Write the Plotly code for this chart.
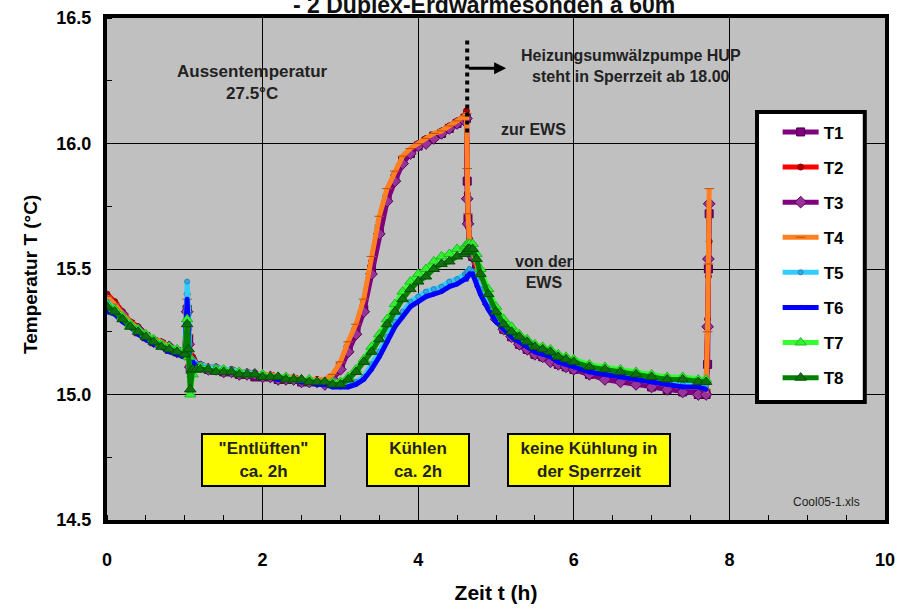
import plotly.graph_objects as go

# ---------------- data ----------------
t = [0.0, 0.1, 0.2, 0.3, 0.4, 0.5, 0.6, 0.7, 0.8, 0.9, 1.0,
     1.03, 1.05, 1.07, 1.1, 1.15,
     1.2, 1.3, 1.4, 1.5, 1.6, 1.7, 1.8, 1.9, 2.0, 2.1, 2.2, 2.3, 2.4, 2.5, 2.6, 2.7, 2.8, 2.9,
     3.0, 3.1, 3.2, 3.3, 3.4, 3.5, 3.6, 3.7, 3.8, 3.9, 4.0, 4.1, 4.2, 4.3, 4.4, 4.5, 4.6,
     4.62, 4.63, 4.64, 4.66, 4.7, 4.75, 4.8,
     4.9, 5.0, 5.1, 5.2, 5.3, 5.4, 5.5, 5.6, 5.7, 5.8, 5.9, 6.0,
     6.2, 6.4, 6.6, 6.8, 7.0, 7.2, 7.4, 7.6, 7.7,
     7.72, 7.73, 7.74]

T1 = [15.37, 15.35, 15.31, 15.28, 15.25, 15.23, 15.21, 15.20, 15.18, 15.17, 15.16,
      15.34, 15.22, 15.10, 15.13, 15.11,
      15.11, 15.10, 15.10, 15.09, 15.09, 15.08, 15.08, 15.07, 15.07, 15.07, 15.06, 15.06, 15.06, 15.05, 15.05, 15.05, 15.05, 15.06,
      15.11, 15.18, 15.25, 15.34, 15.50, 15.66, 15.78, 15.86, 15.93, 15.96, 15.99, 16.01, 16.03, 16.04, 16.06, 16.08, 16.10,
      16.10, 15.85, 15.70, 15.58, 15.55, 15.50, 15.44,
      15.37, 15.31, 15.26, 15.23, 15.20, 15.18, 15.16, 15.15, 15.14, 15.12, 15.11, 15.10,
      15.08, 15.07, 15.06, 15.05, 15.03, 15.02, 15.01, 15.00, 15.00,
      15.12, 15.50, 15.72]

T2 = [15.40, 15.37, 15.33, 15.29, 15.27, 15.24, 15.22, 15.21, 15.19, 15.18, 15.17,
      15.40, 15.26, 15.14, 15.15, 15.12,
      15.12, 15.11, 15.11, 15.10, 15.10, 15.09, 15.09, 15.08, 15.08, 15.07, 15.07, 15.07, 15.06, 15.06, 15.06, 15.06, 15.05, 15.07,
      15.12, 15.20, 15.27, 15.37, 15.53, 15.69, 15.80, 15.88, 15.94, 15.97, 16.00, 16.02, 16.03, 16.05, 16.07, 16.09, 16.11,
      16.13, 15.80, 15.67, 15.62, 15.56, 15.51, 15.46,
      15.39, 15.32, 15.28, 15.24, 15.22, 15.20, 15.18, 15.16, 15.15, 15.14, 15.13, 15.12,
      15.10, 15.08, 15.07, 15.06, 15.05, 15.04, 15.03, 15.02, 15.02,
      15.30, 15.47, 15.61]

T3 = [15.38, 15.35, 15.32, 15.28, 15.26, 15.23, 15.21, 15.20, 15.19, 15.17, 15.16,
      15.33, 15.20, 15.11, 15.13, 15.11,
      15.11, 15.10, 15.10, 15.09, 15.09, 15.08, 15.08, 15.08, 15.07, 15.07, 15.06, 15.06, 15.06, 15.05, 15.05, 15.05, 15.04, 15.06,
      15.10, 15.17, 15.24, 15.33, 15.48, 15.64, 15.77, 15.85, 15.92, 15.96, 15.99, 16.00, 16.02, 16.04, 16.06, 16.08, 16.09,
      16.10, 15.78, 15.68, 15.59, 15.55, 15.49, 15.43,
      15.36, 15.30, 15.26, 15.23, 15.20, 15.18, 15.16, 15.15, 15.13, 15.12, 15.11, 15.10,
      15.08, 15.06, 15.05, 15.04, 15.03, 15.02, 15.01, 15.00, 15.00,
      15.27, 15.54, 15.76]

T4 = [15.39, 15.36, 15.32, 15.29, 15.26, 15.24, 15.22, 15.21, 15.19, 15.18, 15.17,
      15.38, 15.24, 15.12, 15.14, 15.12,
      15.12, 15.11, 15.11, 15.10, 15.10, 15.09, 15.09, 15.08, 15.08, 15.08, 15.07, 15.07, 15.07, 15.06, 15.06, 15.06, 15.06, 15.08,
      15.13, 15.21, 15.28, 15.38, 15.55, 15.71, 15.82, 15.89, 15.95, 15.98, 16.00, 16.02, 16.04, 16.05, 16.07, 16.09, 16.11,
      16.12, 15.90, 15.72, 15.60, 15.57, 15.52, 15.46,
      15.39, 15.33, 15.28, 15.25, 15.22, 15.20, 15.18, 15.16, 15.15, 15.14, 15.13, 15.12,
      15.10, 15.08, 15.07, 15.06, 15.05, 15.04, 15.03, 15.03, 15.02,
      15.25, 15.52, 15.82]

T5 = [15.37, 15.34, 15.31, 15.28, 15.25, 15.23, 15.21, 15.19, 15.18, 15.17, 15.16,
      15.45, 15.32, 15.06, 15.14, 15.12,
      15.12, 15.11, 15.11, 15.10, 15.10, 15.09, 15.09, 15.08, 15.08, 15.07, 15.07, 15.07, 15.06, 15.06, 15.05, 15.05, 15.05, 15.04,
      15.04, 15.04, 15.05, 15.07, 15.12, 15.17, 15.23, 15.29, 15.33, 15.37, 15.39, 15.41, 15.42, 15.43, 15.45, 15.46, 15.48,
      15.48, 15.49, 15.49, 15.50, 15.49, 15.46, 15.42,
      15.35, 15.30, 15.27, 15.24, 15.22, 15.20, 15.18, 15.17, 15.16, 15.14, 15.13, 15.12,
      15.10, 15.09, 15.08, 15.07, 15.06, 15.05, 15.04, 15.04, 15.03,
      None, None, None]

T6 = [15.33, 15.32, 15.29, 15.27, 15.24, 15.22, 15.20, 15.19, 15.17, 15.16, 15.15,
      15.38, 15.24, 15.05, 15.13, 15.11,
      15.11, 15.10, 15.10, 15.09, 15.09, 15.08, 15.08, 15.08, 15.07, 15.07, 15.06, 15.06, 15.06, 15.05, 15.05, 15.04, 15.04, 15.03,
      15.03, 15.03, 15.04, 15.06, 15.10, 15.15, 15.21, 15.27, 15.31, 15.35, 15.37, 15.39, 15.40, 15.41, 15.43, 15.44, 15.46,
      15.46, 15.47, 15.47, 15.48, 15.48, 15.44, 15.40,
      15.34, 15.29, 15.26, 15.23, 15.21, 15.19, 15.17, 15.16, 15.15, 15.13, 15.12, 15.11,
      15.09, 15.08, 15.07, 15.06, 15.05, 15.04, 15.03, 15.03, 15.02,
      None, None, None]

T7 = [15.36, 15.34, 15.31, 15.28, 15.26, 15.24, 15.22, 15.20, 15.19, 15.18, 15.17,
      15.30, 15.15, 15.00, 15.08, 15.10,
      15.11, 15.10, 15.10, 15.10, 15.09, 15.09, 15.08, 15.08, 15.08, 15.07, 15.07, 15.07, 15.06, 15.06, 15.06, 15.05, 15.05, 15.05,
      15.05, 15.07, 15.10, 15.14, 15.19, 15.24, 15.30, 15.36, 15.41, 15.45, 15.48, 15.50, 15.53, 15.55, 15.56, 15.58, 15.59,
      15.59, 15.60, 15.60, 15.60, 15.60, 15.56, 15.50,
      15.42, 15.35, 15.30, 15.27, 15.24, 15.22, 15.20, 15.19, 15.18, 15.16, 15.15, 15.14,
      15.12, 15.11, 15.10, 15.09, 15.08, 15.07, 15.07, 15.06, 15.06,
      None, None, None]

T8 = [15.35, 15.33, 15.30, 15.27, 15.25, 15.23, 15.21, 15.19, 15.18, 15.17, 15.16,
      15.28, 15.18, 15.02, 15.10, 15.10,
      15.10, 15.10, 15.09, 15.09, 15.09, 15.08, 15.08, 15.08, 15.07, 15.07, 15.07, 15.06, 15.06, 15.06, 15.05, 15.05, 15.05, 15.04,
      15.04, 15.06, 15.09, 15.13, 15.17, 15.22, 15.28, 15.33, 15.38, 15.42, 15.45, 15.47, 15.50, 15.52, 15.53, 15.55, 15.56,
      15.57, 15.57, 15.58, 15.58, 15.58, 15.54, 15.48,
      15.40, 15.33, 15.28, 15.25, 15.23, 15.21, 15.19, 15.18, 15.17, 15.15, 15.14, 15.13,
      15.11, 15.10, 15.09, 15.08, 15.07, 15.06, 15.06, 15.05, 15.05,
      None, None, None]

series_names = ["T1", "T2", "T3", "T4", "T5", "T6", "T7", "T8"]
series_values = [T1, T2, T3, T4, T5, T6, T7, T8]

x_ticks = [0, 2, 4, 6, 8, 10]
y_ticks = [14.5, 15.0, 15.5, 16.0, 16.5]

# ---------------- styles ----------------
styles = {
    "T1": dict(line="#800080", sym="square", size=8, mcol="#800080", mline="#4b004b"),
    "T2": dict(line="#ff0000", sym="circle", size=6, mcol="#a00000", mline="#a00000"),
    "T3": dict(line="#800080", sym="diamond", size=9, mcol="#993399", mline="#5a005a"),
    "T4": dict(line="#ff8020", sym="line-ew", size=7, mcol="#e06010", mline="#c05000"),
    "T5": dict(line="#33ccff", sym="circle", size=5, mcol="#33aadd", mline="#2288bb"),
    "T6": dict(line="#0000ff", sym="circle", size=4, mcol="#0000ff", mline="#0000ff"),
    "T7": dict(line="#33ff33", sym="triangle-up", size=10, mcol="#33ee33", mline="#22bb22"),
    "T8": dict(line="#008000", sym="triangle-up", size=10, mcol="#107010", mline="#005000"),
}

FONT = "Liberation Sans, Arial, sans-serif"
TXT = dict(color="#222222", family=FONT, weight="bold")

fig = go.Figure()
for name, vals in zip(series_names, series_values):
    s = styles[name]
    fig.add_trace(go.Scatter(
        x=t, y=vals, name=name, mode="lines+markers", legendgroup=name,
        line=dict(color=s["line"], width=5),
        marker=dict(symbol=s["sym"], size=s["size"], color=s["mcol"],
                    line=dict(color=s["mline"], width=1)),
    ))

# legend frame (white box with thick black border)
fig.add_shape(type="rect", xref="paper", yref="paper",
              x0=0.8355, x1=0.974, y0=0.235, y1=0.8127,
              fillcolor="white", line=dict(color="black", width=4), layer="above")

# dotted vertical line at pump stop
fig.add_shape(type="line", xref="x", yref="y", x0=4.63, x1=4.63, y0=16.41, y1=16.03,
              line=dict(color="black", width=4, dash="dot"))

annots = [
    dict(x=5.13, y=16.30, ax=4.63, ay=16.30, xref="x", yref="y", axref="x", ayref="y",
         showarrow=True, arrowhead=2, arrowsize=0.8, arrowwidth=3, arrowcolor="black", text=""),
    dict(x=1.87, y=16.245, text="Aussentemperatur<br>27.5°C", showarrow=False,
         font=dict(size=17, **TXT)),
    dict(x=6.74, y=16.31, text="Heizungsumwälzpumpe HUP<br>steht in Sperrzeit ab 18.00", showarrow=False,
         font=dict(size=16, **TXT)),
    dict(x=5.48, y=16.055, text="zur EWS", showarrow=False, font=dict(size=16, **TXT)),
    dict(x=5.62, y=15.49, text="von der<br>EWS", showarrow=False, font=dict(size=16, **TXT)),
    dict(x=2.01, y=14.74, text="\"Entlüften\"<br>ca. 2h", showarrow=False,
         bgcolor="#ffff00", bordercolor="black", borderwidth=2, borderpad=0, width=121, height=50,
         font=dict(size=17, **TXT)),
    dict(x=4.0, y=14.74, text="Kühlen<br>ca. 2h", showarrow=False,
         bgcolor="#ffff00", bordercolor="black", borderwidth=2, borderpad=0, width=100, height=50,
         font=dict(size=17, **TXT)),
    dict(x=6.19, y=14.74, text="keine Kühlung in<br>der Sperrzeit", showarrow=False,
         bgcolor="#ffff00", bordercolor="black", borderwidth=2, borderpad=0, width=160, height=50,
         font=dict(size=17, **TXT)),
    dict(x=9.7, y=14.57, text="Cool05-1.xls", showarrow=False, xanchor="right",
         font=dict(size=12, color="#222222", family=FONT)),
    dict(x=0.484, y=1.026, xref="paper", yref="paper", text="- 2 Duplex-Erdwärmesonden à 60m",
         showarrow=False, yanchor="middle",
         font=dict(size=23, color="#111111", family=FONT, weight="bold")),
    dict(x=-0.099, y=0.49, xref="paper", yref="paper", text="Temperatur T (°C)", textangle=-90,
         showarrow=False, xanchor="center", yanchor="middle",
         font=dict(size=19, color="black", family=FONT, weight="bold")),
]
for a in annots:
    a.setdefault("xref", "x")
    a.setdefault("yref", "y")
    fig.add_annotation(**a)

fig.update_layout(
    width=899, height=610,
    margin=dict(l=107, r=14, t=18, b=90),
    paper_bgcolor="white", plot_bgcolor="#c0c0c0",
    font=dict(family=FONT, color="black"),
    showlegend=True,
    legend=dict(x=0.862, y=0.808, xanchor="left", yanchor="top",
                bgcolor="rgba(0,0,0,0)", borderwidth=0,
                font=dict(size=17, family=FONT, weight="bold", color="black"),
                tracegroupgap=10, itemwidth=36),
    xaxis=dict(range=[0, 10], tickvals=x_ticks, showgrid=True, gridcolor="black", gridwidth=1,
               showline=True, linecolor="black", linewidth=4, mirror=True, zeroline=False,
               ticks="", ticklabelstandoff=20, automargin=False,
               tickfont=dict(size=18, family=FONT, weight="bold"),
               minor=dict(ticks="inside", dtick=0.5, ticklen=5, tickcolor="black", showgrid=False),
               title=dict(text="Zeit t (h)", font=dict(size=21, family=FONT, weight="bold"), standoff=18)),
    yaxis=dict(range=[14.5, 16.5], tickvals=y_ticks, tickformat=".1f", showgrid=True, gridcolor="black",
               gridwidth=1, showline=True, linecolor="black", linewidth=4, mirror=True, zeroline=False,
               ticks="", ticklabelstandoff=8, automargin=False,
               tickfont=dict(size=18, family=FONT, weight="bold"),
               minor=dict(ticks="inside", dtick=0.25, ticklen=5, tickcolor="black", showgrid=False)),
)

fig.write_html("out.html")
